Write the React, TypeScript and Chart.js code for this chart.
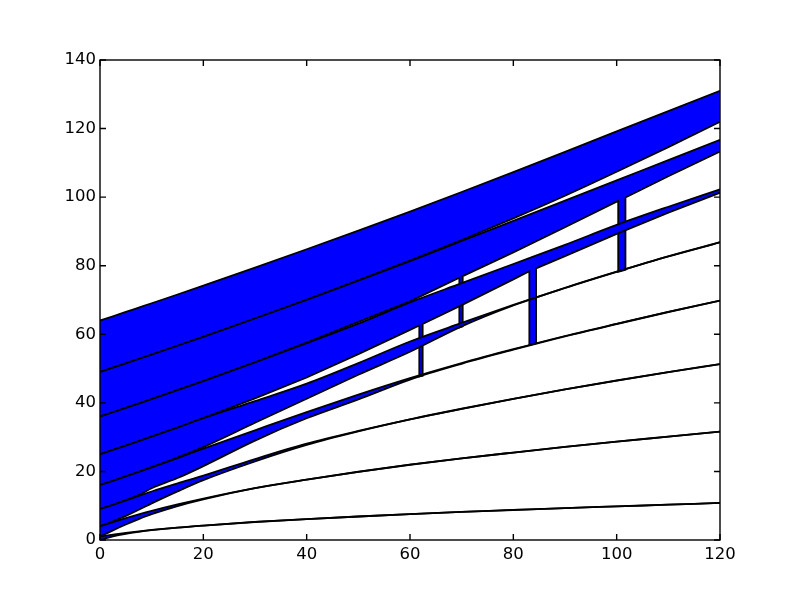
import React, { useEffect, useRef } from "react";
import { Chart, registerables } from "chart.js";

Chart.register(...registerables);

// sample positions along the horizontal axis
const xs = [0, 2.5, 5, 7.5, 10, 15, 20, 30, 40, 50, 60, 70, 80, 90, 100, 110, 120];

// lower edges of the blue bands (a-curves)
const a0 = [0, 1.06, 1.81, 2.38, 2.85, 3.6, 4.2, 5.25, 6.1, 6.85, 7.55, 8.2, 8.75, 9.3, 9.8, 10.3, 10.8];
const a1 = [1, 2.82, 4.52, 6.09, 7.52, 9.9, 11.86, 15.1, 17.6, 19.9, 21.95, 23.8, 25.5, 27.15, 28.7, 30.15, 31.6];
const a2 = [4, 5.41, 7.02, 8.81, 10.67, 14.18, 17.45, 22.9, 27.72, 31.66, 35.15, 38.25, 41.15, 43.9, 46.5, 48.95, 51.3];
const a3 = [9, 10.28, 11.63, 13.07, 15.11, 18.07, 21.55, 29.0, 35.5, 41.0, 46.8, 51.4, 55.5, 59.4, 63.0, 66.5, 69.8];
const a4 = [16, 17.26, 18.56, 19.89, 21.25, 24.07, 27.1, 34.2, 41.2, 48.2, 54.9, 62.3, 68.4, 73.5, 78.2, 82.7, 86.8];
const a5 = [25, 26.26, 27.53, 28.82, 30.13, 32.8, 35.55, 41.3, 47.4, 54.2, 61.3, 68.5, 76.0, 82.8, 89.3, 95.5, 101.3];
const a6 = [36, 37.26, 38.52, 39.8, 41.09, 43.7, 46.36, 51.85, 57.55, 63.6, 69.6, 76.8, 83.9, 91.2, 98.7, 106.1, 113.3];
const a7 = [49, 50.25, 51.52, 52.79, 54.07, 56.65, 59.26, 64.6, 70.08, 75.7, 81.5, 87.5, 93.8, 100.4, 107.4, 114.6, 122.0];

// upper edges of the blue bands (b-curves)
const b1 = [1, 1.58, 2.09, 2.53, 2.93, 3.63, 4.21, 5.26, 6.11, 6.86, 7.56, 8.21, 8.76, 9.31, 9.81, 10.31, 10.81];
const b2 = [4, 5.22, 6.37, 7.46, 8.49, 10.38, 12.1, 15.15, 17.62, 19.91, 21.96, 23.81, 25.51, 27.16, 28.71, 30.16, 31.61];
const b3 = [9, 10.27, 11.57, 12.87, 14.15, 16.5, 18.75, 23.6, 28.08, 31.8, 35.2, 38.28, 41.17, 43.92, 46.52, 48.97, 51.32];
const b4 = [16, 17.26, 18.55, 19.87, 21.21, 23.9, 26.65, 32.0, 37.3, 42.4, 47.2, 51.6, 55.65, 59.5, 63.05, 66.55, 69.85];
const b5 = [25, 26.26, 27.53, 28.82, 30.13, 32.79, 35.52, 40.5, 45.6, 51.6, 57.9, 63.3, 68.55, 73.55, 78.25, 82.75, 86.85];
const b6 = [36, 37.26, 38.52, 39.8, 41.09, 43.7, 46.36, 51.8, 57.4, 63.1, 69.3, 74.9, 80.5, 86.1, 91.9, 97.2, 102.3];
const b7 = [49, 50.25, 51.52, 52.79, 54.07, 56.65, 59.26, 64.6, 70.05, 75.65, 81.35, 87.2, 93.1, 99.0, 104.9, 110.8, 116.7];
const b8 = [64, 65.25, 66.51, 67.78, 69.05, 71.61, 74.2, 79.45, 84.8, 90.25, 95.8, 101.5, 107.3, 113.2, 119.2, 125.1, 131.0];

// narrow vertical glitches (which lower edge they belong to, where, and how deep)
const spikeBand = [5, 6, 5, 6];
const spikeLeftX = [61.8, 69.55, 83.1, 100.3];
const spikeRightX = [62.45, 70.2, 84.4, 101.7];
const spikeTopLeft = [62.6, 76.5, 78.4, 98.9];
const spikeTopRight = [63.0, 77.0, 79.2, 99.9];
const spikeFloorLeft = [47.7, 62.0, 56.9, 78.2];
const spikeFloorRight = [47.9, 62.3, 57.4, 78.8];

const xTicks = [0, 20, 40, 60, 80, 100, 120];
const yTicks = [0, 20, 40, 60, 80, 100, 120, 140];

const lowers = [a0, a1, a2, a3, a4, a5, a6, a7];
const uppers = [b1, b2, b3, b4, b5, b6, b7, b8];

type P = { x: number; y: number };

function toPoints(ys: number[]): P[] {
  return xs.map((x, i) => ({ x, y: ys[i] }));
}

function withSpikes(band: number, ys: number[]): P[] {
  let pts = toPoints(ys);
  spikeBand.forEach((b, k) => {
    if (b !== band) return;
    const L = spikeLeftX[k];
    const idx = pts.findIndex((p) => p.x > L);
    const ins: P[] = [
      { x: L, y: spikeTopLeft[k] },
      { x: L, y: spikeFloorLeft[k] },
      { x: spikeRightX[k], y: spikeFloorRight[k] },
      { x: spikeRightX[k], y: spikeTopRight[k] },
    ];
    pts = [...pts.slice(0, idx), ...ins, ...pts.slice(idx)];
  });
  return pts;
}

const frameTicks = {
  id: "frameTicks",
  afterDatasetsDraw(chart: any) {
    const { ctx, chartArea, scales } = chart;
    const { left, right, top, bottom } = chartArea;
    const x = scales.x;
    const y = scales.y;
    ctx.save();
    ctx.strokeStyle = "#000";
    ctx.lineWidth = 1.4;
    ctx.strokeRect(left, top, right - left, bottom - top);
    const len = 6;
    ctx.beginPath();
    xTicks.forEach((v) => {
      const px = x.getPixelForValue(v);
      ctx.moveTo(px, bottom);
      ctx.lineTo(px, bottom - len);
      ctx.moveTo(px, top);
      ctx.lineTo(px, top + len);
    });
    yTicks.forEach((v) => {
      const py = y.getPixelForValue(v);
      ctx.moveTo(left, py);
      ctx.lineTo(left + len, py);
      ctx.moveTo(right, py);
      ctx.lineTo(right - len, py);
    });
    ctx.stroke();
    ctx.restore();
  },
};

export default function App() {
  const ref = useRef<HTMLCanvasElement | null>(null);

  useEffect(() => {
    if (!ref.current) return;
    const datasets: any[] = [];
    lowers.forEach((lo, n) => {
      const spiky = spikeBand.includes(n);
      datasets.push({
        data: spiky ? withSpikes(n, lo) : toPoints(lo),
        borderColor: "#000",
        borderWidth: 1.8,
        pointRadius: 0,
        fill: false,
        tension: 0,
        cubicInterpolationMode: spiky ? "default" : "monotone",
      });
      datasets.push({
        data: toPoints(uppers[n]),
        borderColor: "#000",
        borderWidth: 1.8,
        pointRadius: 0,
        backgroundColor: "#0000ff",
        fill: "-1",
        cubicInterpolationMode: "monotone",
      });
    });

    const font = { family: "'DejaVu Sans', sans-serif", size: 16.5 };
    const chart = new Chart(ref.current, {
      type: "line",
      data: { datasets },
      options: {
        responsive: false,
        animation: false,
        events: [],
        layout: { padding: { left: 0, right: 80, top: 60, bottom: 0 } },
        plugins: { legend: { display: false }, tooltip: { enabled: false } },
        scales: {
          x: {
            type: "linear",
            min: 0,
            max: 120,
            grid: { display: false, drawTicks: false },
            border: { display: false },
            ticks: { stepSize: 20, color: "#000", font, padding: 5, maxRotation: 0 },
            afterFit: (s: any) => {
              s.height = 60;
            },
          },
          y: {
            type: "linear",
            min: 0,
            max: 140,
            grid: { display: false, drawTicks: false },
            border: { display: false },
            ticks: { stepSize: 20, color: "#000", font, padding: 4 },
            afterFit: (s: any) => {
              s.width = 100;
            },
          },
        },
      },
      plugins: [frameTicks],
    });
    return () => chart.destroy();
  }, []);

  return (
    <div style={{ position: "fixed", left: 0, top: 0, width: 800, height: 600, background: "#fff" }}>
      <canvas ref={ref} width={800} height={600} style={{ display: "block" }} />
    </div>
  );
}
